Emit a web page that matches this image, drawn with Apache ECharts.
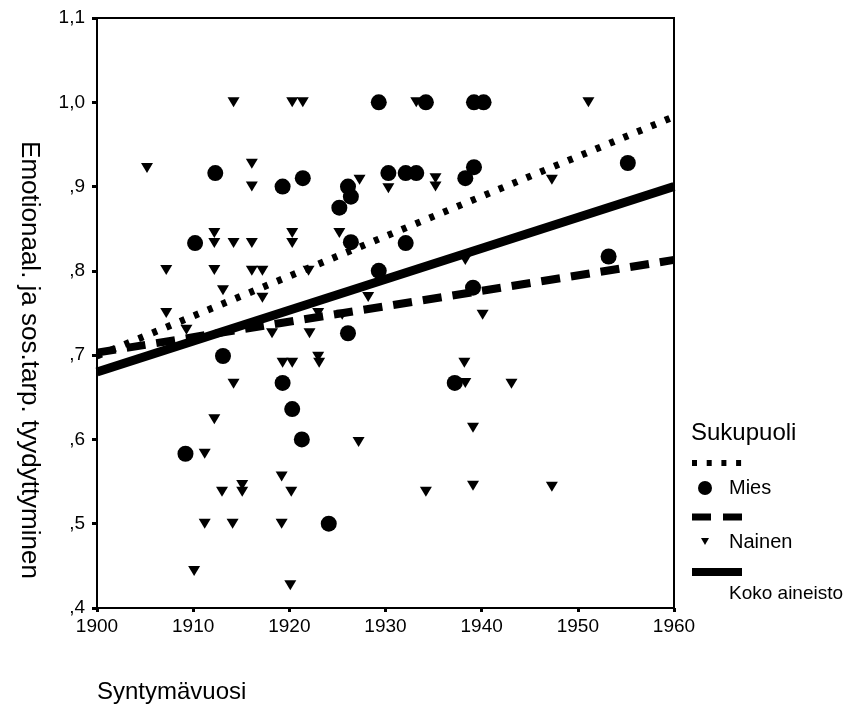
<!DOCTYPE html>
<html>
<head>
<meta charset="utf-8">
<script src="https://cdn.jsdelivr.net/npm/echarts@6/dist/echarts.min.js"></script>
<style>
  html, body { margin: 0; padding: 0; background: #fff; }
  #chart { width: 860px; height: 707px; }
</style>
</head>
<body>
<div id="chart"></div>
<script>
// Mies (circles)
var miesYear = [1912.3, 1919.3, 1921.4, 1910.2, 1913.1, 1919.3, 1920.3, 1921.3, 1909.2, 1929.3,
  1934.2, 1939.2, 1940.2, 1930.3, 1932.1, 1933.2, 1939.2, 1938.3, 1926.1, 1926.4,
  1925.2, 1926.4, 1932.1, 1929.3, 1939.1, 1926.1, 1937.2, 1924.1, 1955.2, 1953.2];
var miesValue = [0.916, 0.900, 0.910, 0.833, 0.699, 0.667, 0.636, 0.600, 0.583, 1.000,
  1.000, 1.000, 1.000, 0.916, 0.916, 0.916, 0.923, 0.910, 0.900, 0.888,
  0.875, 0.834, 0.833, 0.800, 0.780, 0.726, 0.667, 0.500, 0.928, 0.817];

// Nainen (triangles)
var nainenYear = [1914.2, 1920.3, 1921.4, 1905.2, 1916.1, 1916.1, 1912.2, 1912.2, 1914.2, 1916.1,
  1920.3, 1920.3, 1907.2, 1912.2, 1916.1, 1917.2, 1913.1, 1917.2, 1907.2, 1922.0,
  1918.2, 1922.1, 1919.3, 1920.3, 1923.0, 1909.3, 1914.2, 1912.2, 1911.2, 1919.2,
  1915.1, 1915.1, 1913.0, 1920.2, 1911.2, 1914.1, 1919.2, 1910.1, 1920.1, 1933.2,
  1930.3, 1935.2, 1935.2, 1927.3, 1925.2, 1940.1, 1928.2, 1938.3, 1923.0, 1925.5,
  1923.1, 1938.2, 1938.3, 1943.1, 1939.1, 1927.2, 1934.2, 1939.1, 1951.1, 1947.3,
  1947.3];
var nainenValue = [1.000, 1.000, 1.000, 0.922, 0.927, 0.900, 0.845, 0.833, 0.833, 0.833,
  0.845, 0.833, 0.801, 0.801, 0.800, 0.800, 0.777, 0.768, 0.750, 0.800,
  0.726, 0.726, 0.691, 0.691, 0.698, 0.730, 0.666, 0.624, 0.583, 0.556,
  0.546, 0.538, 0.538, 0.538, 0.500, 0.500, 0.500, 0.444, 0.427, 1.000,
  0.898, 0.910, 0.900, 0.908, 0.845, 0.748, 0.769, 0.813, 0.750, 0.748,
  0.691, 0.691, 0.667, 0.666, 0.614, 0.597, 0.538, 0.545, 1.000, 0.908,
  0.544];

// fit lines (end values read at 1900 and 1960)
var fitYears = [1900, 1960];
var miesFit = [0.699, 0.983];
var nainenFit = [0.703, 0.813];
var kokoFit = [0.680, 0.900];

var yTickLabels = [",4", ",5", ",6", ",7", ",8", ",9", "1,0", "1,1"];

var FONT = "Liberation Sans, Arial, Helvetica, sans-serif";

function pairs(xs, ys) {
  return xs.map(function (x, i) { return [x, ys[i]]; });
}

var chart = echarts.init(document.getElementById("chart"));

var triPath = "path://M0,0 L10,0 L5,9 Z";

var option = {
  animation: false,
  backgroundColor: "#fff",
  grid: {
    left: 97,
    right: 186,
    top: 18,
    bottom: 99,
    show: true,
    borderColor: "#000",
    borderWidth: 2,
  },
  xAxis: {
    type: "value",
    min: 1900,
    max: 1960,
    interval: 10,
    splitLine: { show: false },
    axisLine: { show: true, lineStyle: { color: "#000", width: 2 } },
    axisTick: { show: true, length: 4, lineStyle: { color: "#000", width: 3 } },
    axisLabel: {
      color: "#000",
      fontSize: 19,
      fontFamily: FONT,
      margin: 9,
      formatter: function (v) {
        return String(v);
      },
    },
  },
  yAxis: {
    type: "value",
    min: 0.4,
    max: 1.1,
    interval: 0.1,
    splitLine: { show: false },
    axisLine: { show: true, lineStyle: { color: "#000", width: 2 } },
    axisTick: { show: true, length: 5, lineStyle: { color: "#000", width: 3 } },
    axisLabel: {
      color: "#000",
      fontSize: 19,
      fontFamily: FONT,
      margin: 12,
      formatter: function (v) {
        return yTickLabels[Math.round(v * 10) - 4];
      },
    },
  },
  series: [
    {
      name: "Mies",
      type: "scatter",
      symbol: "circle",
      symbolSize: 16,
      itemStyle: { color: "#000", opacity: 1 },
      data: pairs(miesYear, miesValue),
    },
    {
      name: "Nainen",
      type: "scatter",
      symbol: triPath,
      symbolSize: [12, 10],
      itemStyle: { color: "#000", opacity: 1 },
      data: pairs(nainenYear, nainenValue),
    },
    {
      name: "Mies fit",
      type: "line",
      showSymbol: false,
      lineStyle: { color: "#000", width: 7, type: [5, 10], cap: "butt" },
      data: pairs(fitYears, miesFit),
    },
    {
      name: "Nainen fit",
      type: "line",
      showSymbol: false,
      lineStyle: { color: "#000", width: 8, type: [19, 11], cap: "butt" },
      data: pairs(fitYears, nainenFit),
    },
    {
      name: "Koko aineisto",
      type: "line",
      showSymbol: false,
      lineStyle: { color: "#000", width: 9, type: "solid" },
      data: pairs(fitYears, kokoFit),
    },
  ],
  graphic: [
    // axis titles
    {
      type: "text",
      x: 29,
      y: 360,
      rotation: -Math.PI / 2,
      style: {
        text: "Emotionaal. ja sos.tarp. tyydyttyminen",
        font: "26px " + FONT,
        fill: "#000",
        align: "center",
        verticalAlign: "middle",
      },
    },
    {
      type: "text",
      x: 97,
      y: 692,
      style: {
        text: "Syntymävuosi",
        font: "24px " + FONT,
        fill: "#000",
        align: "left",
        verticalAlign: "middle",
      },
    },
    // legend
    {
      type: "text",
      x: 691,
      y: 433,
      style: { text: "Sukupuoli", font: "24px " + FONT, fill: "#000", verticalAlign: "middle" },
    },
    {
      type: "line",
      shape: { x1: 692, y1: 463, x2: 742, y2: 463 },
      style: { stroke: "#000", lineWidth: 6, lineDash: [5, 9.7] },
    },
    {
      type: "circle",
      shape: { cx: 705, cy: 488, r: 7 },
      style: { fill: "#000" },
    },
    {
      type: "text",
      x: 729,
      y: 488,
      style: { text: "Mies", font: "20px " + FONT, fill: "#000", verticalAlign: "middle" },
    },
    {
      type: "line",
      shape: { x1: 692, y1: 517, x2: 742, y2: 517 },
      style: { stroke: "#000", lineWidth: 7, lineDash: [19, 12] },
    },
    {
      type: "polygon",
      shape: { points: [[701, 538], [709, 538], [705, 545]] },
      style: { fill: "#000" },
    },
    {
      type: "text",
      x: 729,
      y: 542,
      style: { text: "Nainen", font: "20px " + FONT, fill: "#000", verticalAlign: "middle" },
    },
    {
      type: "rect",
      shape: { x: 692, y: 568, width: 50, height: 8 },
      style: { fill: "#000" },
    },
    {
      type: "text",
      x: 729,
      y: 594,
      style: { text: "Koko aineisto", font: "19px " + FONT, fill: "#000", verticalAlign: "middle" },
    },
  ],
};

chart.setOption(option);
window.addEventListener("resize", function () {
  chart.resize();
});
</script>
</body>
</html>
